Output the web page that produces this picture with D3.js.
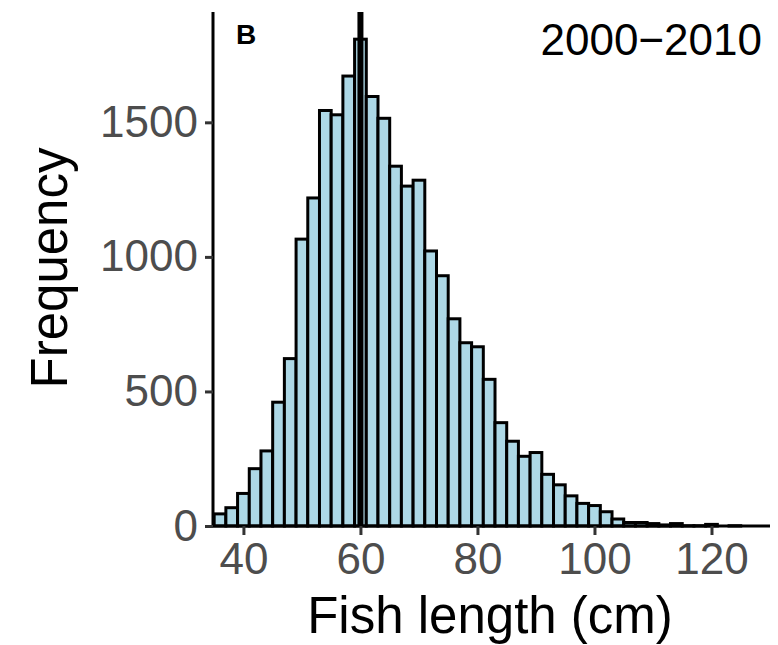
<!DOCTYPE html>
<html>
<head>
<meta charset="utf-8">
<script src="https://cdn.jsdelivr.net/npm/d3@7"></script>
<style>
  body { margin: 0; background: #fff; }
  svg { display: block; font-family: "Liberation Sans", Arial, sans-serif; }
</style>
</head>
<body>
<svg width="778" height="645"></svg>
<script>
// histogram bins (2 cm wide), left edge of each bin
const binStart = [35, 37, 39, 41, 43, 45, 47, 49, 51, 53, 55, 57, 59, 61, 63, 65, 67, 69, 71, 73,
  75, 77, 79, 81, 83, 85, 87, 89, 91, 93, 95, 97, 99, 101, 103, 105, 107, 109, 111, 113,
  115, 117, 119, 121, 123, 125, 127];
const counts = [45, 68, 121, 213, 279, 460, 622, 1066, 1219, 1544, 1528, 1672, 1809, 1596, 1515, 1337, 1263, 1285, 1022, 930,
  770, 681, 666, 545, 384, 315, 259, 273, 192, 153, 112, 84, 76, 53, 26, 13, 13, 9, 4, 9,
  1, 1, 6, 0, 1, 0, 0];
const binWidth = 2;
const xTicks = [40, 60, 80, 100, 120];
const yTicks = [0, 500, 1000, 1500];
const refLine = 60;
const panelTag = "B";
const periodLabel = "2000\u22122010";

const svg = d3.select("svg");

// scales
const x = d3.scaleLinear().domain([34.8, 130]).range([213, 770]);
const y = d3.scaleLinear().domain([0, 1910]).range([526, 12]);

const data = binStart.map((b, i) => ({ x0: b, x1: b + binWidth, n: counts[i] }));

// bars
svg.append("g")
  .selectAll("rect")
  .data(data)
  .enter()
  .append("rect")
  .attr("x", d => x(d.x0))
  .attr("y", d => y(d.n))
  .attr("width", d => x(d.x1) - x(d.x0))
  .attr("height", d => y(0) - y(d.n))
  .attr("fill", "#ADD8E6")
  .attr("stroke", "#000")
  .attr("stroke-width", 3);

// vertical reference line
svg.append("line")
  .attr("x1", x(refLine)).attr("x2", x(refLine))
  .attr("y1", y(1910)).attr("y2", y(0))
  .attr("stroke", "#000")
  .attr("stroke-width", 6);

// axes
const xAxis = svg.append("g")
  .attr("transform", `translate(0, ${y(0)})`)
  .call(d3.axisBottom(x).tickValues(xTicks).tickSize(9).tickPadding(8).tickFormat(d3.format("d")));
const yAxis = svg.append("g")
  .attr("transform", `translate(${x(34.8)}, 0)`)
  .call(d3.axisLeft(y).tickValues(yTicks).tickSize(8).tickPadding(7).tickFormat(d3.format("d")));

[xAxis, yAxis].forEach(a => {
  a.select(".domain").attr("stroke", "#000").attr("stroke-width", 3);
  a.selectAll(".tick line").attr("stroke", "#333").attr("stroke-width", 3);
  a.selectAll(".tick text")
    .attr("fill", "#4D4D4D")
    .style("font-size", "44px")
    .style("font-family", "'Liberation Sans', Arial, sans-serif");
});
// axis lines only span the panel
xAxis.select(".domain").attr("d", `M${x(34.8)},0H770`);
yAxis.select(".domain").attr("d", `M0,${y(1910)}V${y(0)}`);

// axis titles
svg.append("text")
  .attr("x", 490)
  .attr("y", 633)
  .attr("text-anchor", "middle")
  .style("font-size", "51px")
  .attr("fill", "#000")
  .text("Fish length (cm)");
svg.append("text")
  .attr("transform", "translate(67, 268) rotate(-90)")
  .attr("text-anchor", "middle")
  .style("font-size", "51px")
  .attr("fill", "#000")
  .text("Frequency");

// annotations
svg.append("text")
  .attr("x", 236)
  .attr("y", 44)
  .style("font-size", "28px")
  .style("font-weight", "bold")
  .attr("fill", "#000")
  .text(panelTag);
svg.append("text")
  .attr("x", 762)
  .attr("y", 55)
  .attr("text-anchor", "end")
  .style("font-size", "44px")
  .attr("fill", "#000")
  .text(periodLabel);
</script>
</body>
</html>
